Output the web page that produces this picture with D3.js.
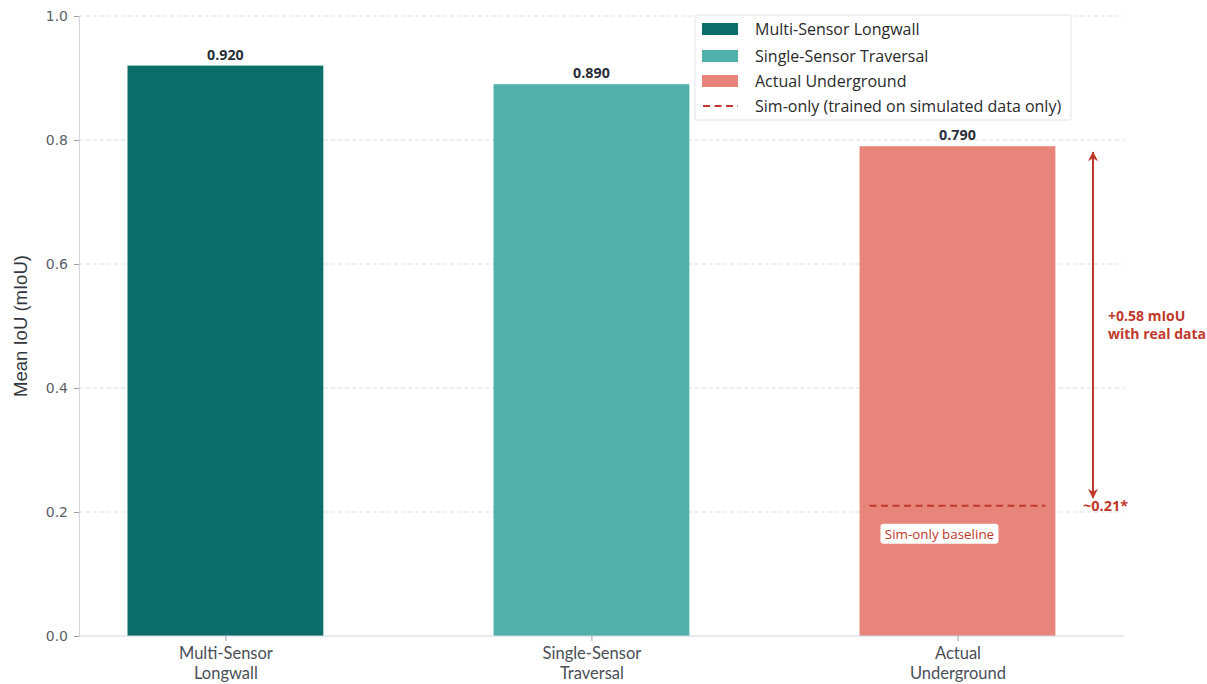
<!DOCTYPE html>
<html>
<head>
<meta charset="utf-8">
<script src="https://cdn.jsdelivr.net/npm/d3@7"></script>
<style>
  html, body { margin: 0; padding: 0; background: #ffffff; }
  svg { display: block; }
</style>
</head>
<body>
<svg id="chart" width="1207" height="684"></svg>
<script>
// Mean IoU per evaluation domain
const categories = ["Multi-Sensor Longwall", "Single-Sensor Traversal", "Actual Underground"];
const categoryLines = [["Multi-Sensor", "Longwall"], ["Single-Sensor", "Traversal"], ["Actual", "Underground"]];
const miou = [0.920, 0.890, 0.790];
const barColors = ["#0c6e68", "#52b0ab", "#e8857a"];
const simOnlyBaseline = 0.21;   // model trained on simulated data only, tested underground
const yTicks = [0.0, 0.2, 0.4, 0.6, 0.8, 1.0];
const legendLabels = ["Multi-Sensor Longwall", "Single-Sensor Traversal", "Actual Underground",
                      "Sim-only (trained on simulated data only)"];

const red = "#c0392b";
const uiFont = "'Open Sans', Lato, sans-serif";
const svg = d3.select("#chart");

const plot = { left: 79, right: 1124, top: 16, bottom: 636 };
const x = d3.scaleLinear().domain([-0.4, 2.455]).range([plot.left, plot.right]);
const y = d3.scaleLinear().domain([0, 1]).range([plot.bottom, plot.top]);
const barWidth = 0.535;

// Dashed horizontal grid
svg.append("g")
  .selectAll("line")
  .data(yTicks.filter(t => t > 0))
  .join("line")
  .attr("x1", plot.left).attr("x2", plot.right)
  .attr("y1", d => y(d)).attr("y2", d => y(d))
  .attr("stroke", "#d9dde3").attr("stroke-width", 1)
  .attr("stroke-dasharray", "4,3");

// Bars
svg.append("g")
  .selectAll("rect")
  .data(miou)
  .join("rect")
  .attr("x", (d, i) => x(i - barWidth / 2))
  .attr("width", (d, i) => x(i + barWidth / 2) - x(i - barWidth / 2))
  .attr("y", d => y(d))
  .attr("height", d => y(0) - y(d))
  .attr("fill", (d, i) => barColors[i]);

// Value labels above bars
svg.append("g")
  .selectAll("text")
  .data(miou)
  .join("text")
  .attr("x", (d, i) => x(i))
  .attr("y", d => y(d) - 6)
  .attr("text-anchor", "middle")
  .attr("font-family", uiFont)
  .attr("font-weight", "bold")
  .attr("font-size", 14.3)
  .attr("fill", "#2a2f3a")
  .text(d => d.toFixed(3));

// Y axis
const yAxis = d3.axisLeft(y).tickValues(yTicks).tickFormat(d3.format(".1f")).tickSize(5).tickPadding(6);
const gy = svg.append("g").attr("transform", `translate(${plot.left},0)`).call(yAxis);
gy.select(".domain").attr("stroke", "#cfd5de");
gy.selectAll(".tick line").attr("stroke", "#9aa3ad");
gy.selectAll(".tick text")
  .attr("font-family", "'DejaVu Sans', sans-serif")
  .attr("font-size", 14)
  .attr("fill", "#5a5f66");

// X axis with two-line category names
const xAxis = d3.axisBottom(x).tickValues([0, 1, 2]).tickSize(5).tickFormat("");
const gx = svg.append("g").attr("transform", `translate(0,${plot.bottom})`).call(xAxis);
gx.select(".domain").attr("stroke", "#cfd5de").attr("d", `M${plot.left},0H${plot.right}`);
gx.selectAll(".tick line").attr("stroke", "#9aa3ad");
gx.selectAll(".tick").append("text")
  .attr("text-anchor", "middle")
  .attr("font-family", "Lato, 'Open Sans', sans-serif")
  .attr("font-size", 16.5)
  .attr("fill", "#4a4f57")
  .selectAll("tspan")
  .data(d => categoryLines[d])
  .join("tspan")
  .attr("x", 0)
  .attr("y", (d, i) => 23 + i * 20)
  .text(d => d);

// Y axis title
svg.append("text")
  .attr("transform", `translate(27,${(plot.top + plot.bottom) / 2}) rotate(-90)`)
  .attr("text-anchor", "middle")
  .attr("font-family", "'Liberation Sans', Arial, sans-serif")
  .attr("font-size", 18.5)
  .attr("fill", "#333840")
  .text("Mean IoU (mIoU)");

// Sim-only baseline inside the underground bar
svg.append("line")
  .attr("x1", x(2 - barWidth / 2) + 10).attr("x2", x(2 + barWidth / 2) - 10)
  .attr("y1", y(simOnlyBaseline)).attr("y2", y(simOnlyBaseline))
  .attr("stroke", red).attr("stroke-width", 2)
  .attr("stroke-dasharray", "7,4.5");

const boxG = svg.append("g").attr("transform", `translate(${x(2) - 18},${y(simOnlyBaseline) + 28})`);
boxG.append("rect")
  .attr("x", -59).attr("y", -10).attr("width", 118).attr("height", 20)
  .attr("rx", 3).attr("fill", "#ffffff");
boxG.append("text")
  .attr("text-anchor", "middle").attr("dy", "0.35em")
  .attr("font-family", uiFont).attr("font-size", 13.4)
  .attr("fill", red)
  .text("Sim-only baseline");

// Gain arrow from sim-only baseline up to real-data result
const defs = svg.append("defs");
defs.append("marker")
  .attr("id", "head")
  .attr("viewBox", "0 0 10 10")
  .attr("refX", 9).attr("refY", 5)
  .attr("markerWidth", 5).attr("markerHeight", 5)
  .attr("markerUnits", "strokeWidth")
  .attr("orient", "auto-start-reverse")
  .append("path")
  .attr("d", "M0,0 L10,5 L0,10 L3,5 Z")
  .attr("fill", red);

const arrowX = 1093;
svg.append("line")
  .attr("x1", arrowX).attr("x2", arrowX)
  .attr("y1", y(miou[2]) + 6).attr("y2", y(simOnlyBaseline) - 8)
  .attr("stroke", red).attr("stroke-width", 2)
  .attr("marker-start", "url(#head)")
  .attr("marker-end", "url(#head)");

const gain = miou[2] - simOnlyBaseline;
const gainText = svg.append("text")
  .attr("font-family", uiFont).attr("font-weight", "bold")
  .attr("font-size", 14).attr("fill", red);
gainText.append("tspan").attr("x", 1108).attr("y", 321).text(`+${gain.toFixed(2)} mIoU`);
gainText.append("tspan").attr("x", 1108).attr("y", 339).text("with real data");

svg.append("text")
  .attr("x", 1083).attr("y", y(simOnlyBaseline))
  .attr("dy", "0.35em")
  .attr("font-family", uiFont).attr("font-weight", "bold")
  .attr("font-size", 14.5).attr("fill", red)
  .text(`~${simOnlyBaseline.toFixed(2)}*`);

// Legend
const lg = svg.append("g").attr("transform", "translate(695,15)");
lg.append("rect")
  .attr("x", 0).attr("y", 0).attr("width", 376).attr("height", 105)
  .attr("rx", 2)
  .attr("fill", "#ffffff").attr("stroke", "#dfe3e8");
const rowsY = [14, 41, 66, 91];
legendLabels.forEach((label, i) => {
  const row = lg.append("g").attr("transform", `translate(0,${rowsY[i]})`);
  if (i < 3) {
    row.append("rect").attr("x", 7).attr("y", -6).attr("width", 36).attr("height", 12)
      .attr("fill", barColors[i]);
  } else {
    row.append("line").attr("x1", 8).attr("x2", 43).attr("y1", 0).attr("y2", 0)
      .attr("stroke", red).attr("stroke-width", 2).attr("stroke-dasharray", "7,4.5");
  }
  row.append("text")
    .attr("x", 60).attr("dy", "0.35em")
    .attr("font-family", uiFont).attr("font-size", 16)
    .attr("fill", "#2a2a2a")
    .text(label);
});
</script>
</body>
</html>
